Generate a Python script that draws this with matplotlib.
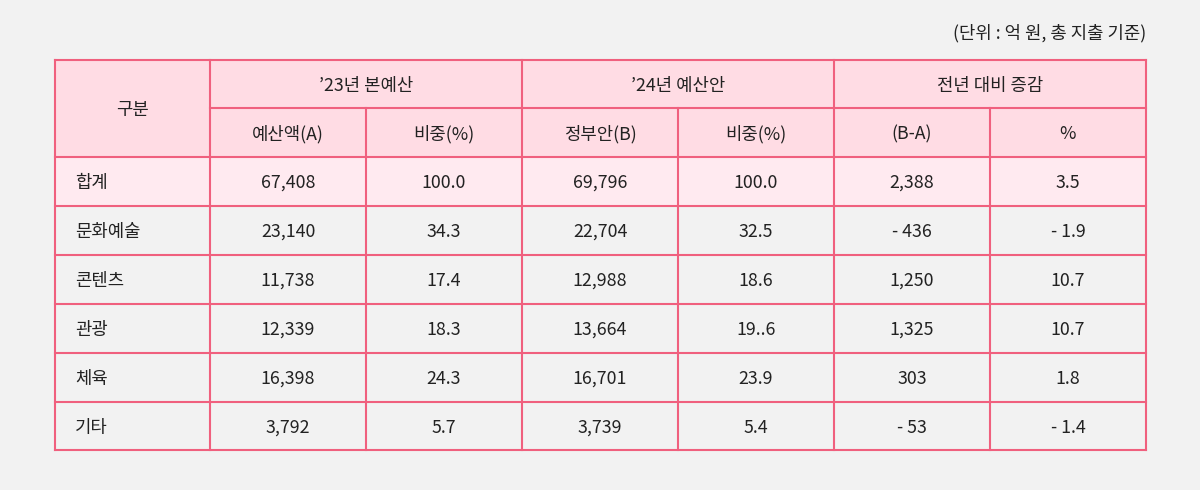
import matplotlib
matplotlib.use("Agg")
import matplotlib.pyplot as plt
from matplotlib.patches import Rectangle

plt.rcParams["font.family"] = "Noto Sans CJK KR"

unit_text = "(단위 : 억 원, 총 지출 기준)"
group_headers = ["’23년 본예산", "’24년 예산안", "전년 대비 증감"]
sub_headers = ["예산액(A)", "비중(%)", "정부안(B)", "비중(%)", "(B-A)", "%"]
categories = ["합계", "문화예술", "콘텐츠", "관광", "체육", "기타"]
budget_23 = ["67,408", "23,140", "11,738", "12,339", "16,398", "3,792"]
share_23 = ["100.0", "34.3", "17.4", "18.3", "24.3", "5.7"]
budget_24 = ["69,796", "22,704", "12,988", "13,664", "16,701", "3,739"]
share_24 = ["100.0", "32.5", "18.6", "19..6", "23.9", "5.4"]
diff = ["2,388", "- 436", "1,250", "1,325", "303", "- 53"]
diff_pct = ["3.5", "- 1.9", "10.7", "10.7", "1.8", "- 1.4"]

W, H = 1200, 490
fig = plt.figure(figsize=(W/100, H/100), dpi=100)
fig.patch.set_facecolor("#f2f2f2")
ax = fig.add_axes([0, 0, 1, 1])
ax.set_xlim(0, W); ax.set_ylim(H, 0); ax.axis("off")

xs = [55, 210, 366, 522, 678, 834, 990, 1146]
ys = [60, 108, 157, 206, 255, 304, 353, 402, 450]
border = "#f0607e"; hdr = "#ffdce4"; tot = "#ffeaf0"; fs = 12.8
dy = 1.5

ax.add_patch(Rectangle((xs[0], ys[0]), xs[-1]-xs[0], ys[2]-ys[0], fc=hdr, ec="none"))
ax.add_patch(Rectangle((xs[0], ys[2]), xs[-1]-xs[0], ys[3]-ys[2], fc=tot, ec="none"))

lw = 1.5
ax.plot([xs[0], xs[-1]], [ys[0], ys[0]], color=border, lw=lw)
ax.plot([xs[1], xs[-1]], [ys[1], ys[1]], color=border, lw=lw)
for y in ys[2:]:
    ax.plot([xs[0], xs[-1]], [y, y], color=border, lw=lw)
for i, x in enumerate(xs):
    if i in (2, 4, 6):
        ax.plot([x, x], [ys[1], ys[-1]], color=border, lw=lw)
    else:
        ax.plot([x, x], [ys[0], ys[-1]], color=border, lw=lw)

ax.text(xs[-1], 33, unit_text, ha="right", va="center", fontsize=fs, color="#222")
ax.text((xs[0]+xs[1])/2, (ys[0]+ys[2])/2 + dy, "구분", ha="center", va="center", fontsize=fs, color="#222")
for g, t in enumerate(group_headers):
    ax.text((xs[1+2*g]+xs[3+2*g])/2, (ys[0]+ys[1])/2 + dy, t, ha="center", va="center", fontsize=fs, color="#222")
for c, t in enumerate(sub_headers):
    ax.text((xs[1+c]+xs[2+c])/2, (ys[1]+ys[2])/2 + dy, t, ha="center", va="center", fontsize=fs, color="#222")
cols = [budget_23, share_23, budget_24, share_24, diff, diff_pct]
for r, cat in enumerate(categories):
    yc = (ys[2+r]+ys[3+r])/2 + dy
    ax.text(xs[0]+20, yc, cat, ha="left", va="center", fontsize=fs, color="#222")
    for c, col in enumerate(cols):
        ax.text((xs[1+c]+xs[2+c])/2, yc, col[r], ha="center", va="center", fontsize=fs, color="#222")

fig.savefig("out.png", dpi=100, facecolor=fig.get_facecolor())
